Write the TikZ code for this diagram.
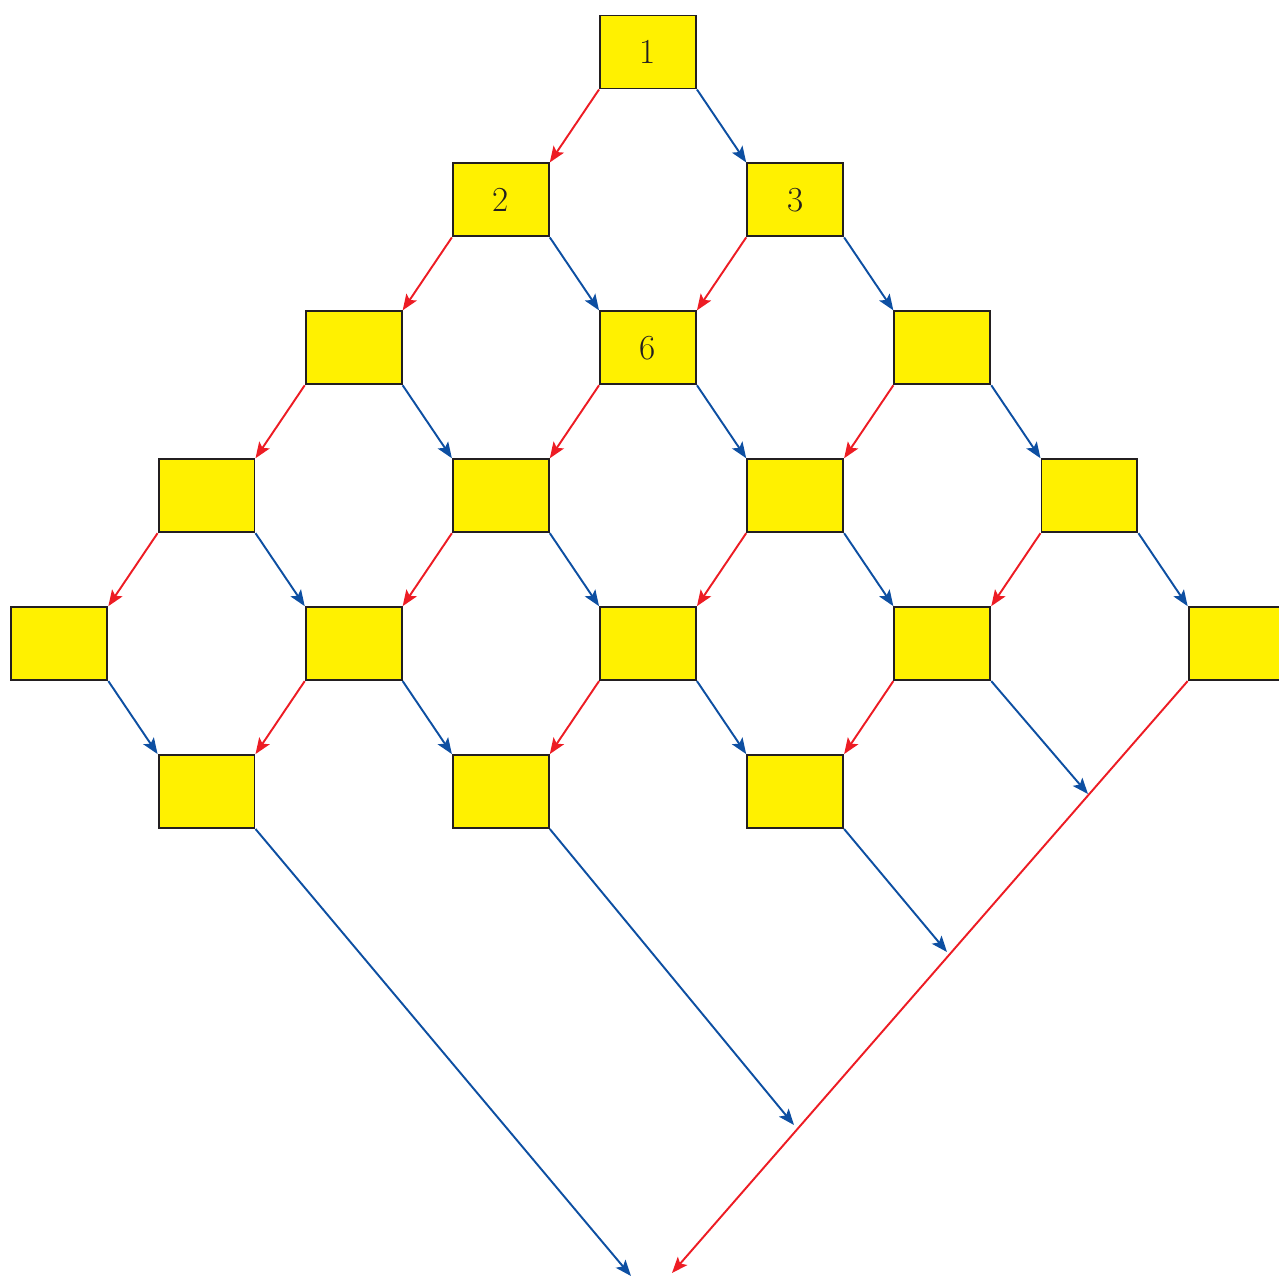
\documentclass[tikz,border=0pt]{standalone}
\usepackage{tikz}
\usetikzlibrary{arrows.meta,positioning}
\definecolor{cellyellow}{RGB}{255,241,0}
\definecolor{cellborder}{RGB}{35,31,32}
\definecolor{leftred}{RGB}{237,28,36}
\definecolor{rightblue}{RGB}{13,79,162}
\tikzset{
    cell/.style={rectangle, draw=cellborder, fill=cellyellow, line width=1.1pt,
                 minimum width=1.92cm, minimum height=1.46cm, inner sep=0pt,
                 font=\fontsize{20}{24}\selectfont, text=cellborder},
    arrl/.style={-{Stealth[length=0.32cm,width=0.25cm,inset=0.07cm]}, line width=1.1pt, leftred},
    arrr/.style={-{Stealth[length=0.32cm,width=0.25cm,inset=0.07cm]}, line width=1.1pt, rightblue},
}
\begin{document}
\begin{tikzpicture}[x=0.02cm, y=-0.02cm, node distance=1.46cm and 0.985cm]
    \useasboundingbox (0,0) rectangle (1279,1276);
    % the triangle of cells, row by row
    \node[cell] at (648,52)            (b00) {1};
    \node[cell, below left=of b00]     (b10) {2};
    \node[cell, below right=of b00]    (b11) {3};
    \node[cell, below left=of b10]     (b20) {};
    \node[cell, below right=of b10]    (b21) {6};
    \node[cell, below right=of b11]    (b22) {};
    \node[cell, below left=of b20]     (b30) {};
    \node[cell, below right=of b20]    (b31) {};
    \node[cell, below right=of b21]    (b32) {};
    \node[cell, below right=of b22]    (b33) {};
    \node[cell, below left=of b30]     (b40) {};
    \node[cell, below right=of b30]    (b41) {};
    \node[cell, below right=of b31]    (b42) {};
    \node[cell, below right=of b32]    (b43) {};
    \node[cell, below right=of b33]    (b44) {};
    \node[cell, below right=of b40]    (b50) {};
    \node[cell, below right=of b41]    (b51) {};
    \node[cell, below right=of b42]    (b52) {};

    % free ends of the outgoing arrows
    \coordinate (e1) at (1088,794);
    \coordinate (e2) at (947,952);
    \coordinate (e3) at (794,1125);
    \coordinate (e4) at (631,1276);
    \coordinate (e5) at (672,1273);

    \draw[arrl] (b00.south west) -- (b10.north east);
    \draw[arrr] (b00.south east) -- (b11.north west);
    \draw[arrl] (b10.south west) -- (b20.north east);
    \draw[arrr] (b10.south east) -- (b21.north west);
    \draw[arrl] (b11.south west) -- (b21.north east);
    \draw[arrr] (b11.south east) -- (b22.north west);
    \draw[arrl] (b20.south west) -- (b30.north east);
    \draw[arrr] (b20.south east) -- (b31.north west);
    \draw[arrl] (b21.south west) -- (b31.north east);
    \draw[arrr] (b21.south east) -- (b32.north west);
    \draw[arrl] (b22.south west) -- (b32.north east);
    \draw[arrr] (b22.south east) -- (b33.north west);
    \draw[arrl] (b30.south west) -- (b40.north east);
    \draw[arrr] (b30.south east) -- (b41.north west);
    \draw[arrl] (b31.south west) -- (b41.north east);
    \draw[arrr] (b31.south east) -- (b42.north west);
    \draw[arrl] (b32.south west) -- (b42.north east);
    \draw[arrr] (b32.south east) -- (b43.north west);
    \draw[arrl] (b33.south west) -- (b43.north east);
    \draw[arrr] (b33.south east) -- (b44.north west);
    \draw[arrr] (b40.south east) -- (b50.north west);
    \draw[arrl] (b41.south west) -- (b50.north east);
    \draw[arrr] (b41.south east) -- (b51.north west);
    \draw[arrl] (b42.south west) -- (b51.north east);
    \draw[arrr] (b42.south east) -- (b52.north west);
    \draw[arrl] (b43.south west) -- (b52.north east);
    % arrows leaving the triangle
    \draw[arrr] (b43.south east) -- (e1);
    \draw[arrr] (b52.south east) -- (e2);
    \draw[arrr] (b51.south east) -- (e3);
    \draw[arrr] (b50.south east) -- (e4);
    \draw[arrl] (b44.south west) -- (e5);
\end{tikzpicture}
\end{document}
